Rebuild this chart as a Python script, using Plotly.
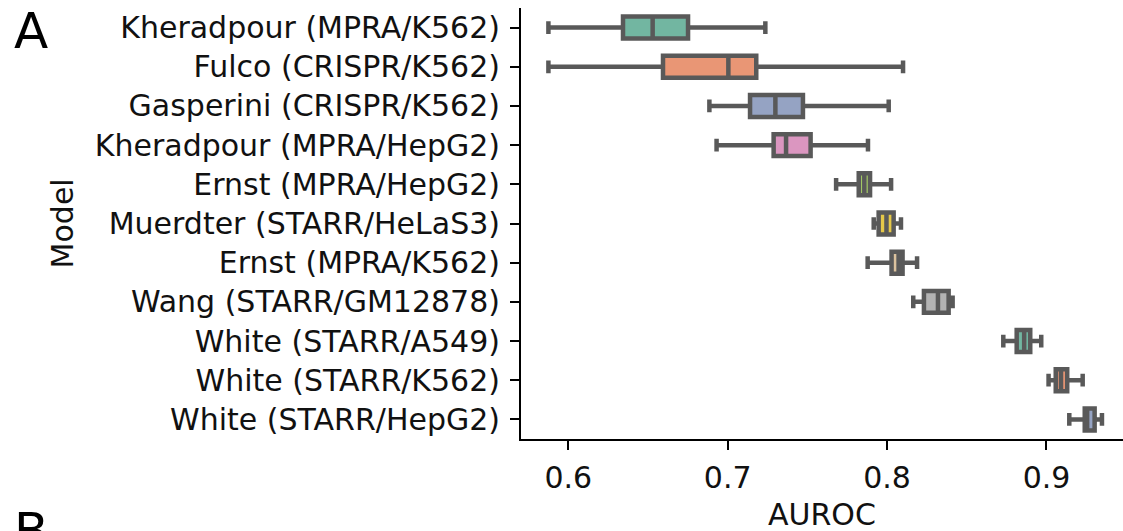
import colorsys
import plotly.graph_objects as go

models = [
    "Kheradpour (MPRA/K562)",
    "Fulco (CRISPR/K562)",
    "Gasperini (CRISPR/K562)",
    "Kheradpour (MPRA/HepG2)",
    "Ernst (MPRA/HepG2)",
    "Muerdter (STARR/HeLaS3)",
    "Ernst (MPRA/K562)",
    "Wang (STARR/GM12878)",
    "White (STARR/A549)",
    "White (STARR/K562)",
    "White (STARR/HepG2)",
]
lower_whisker = [0.5875, 0.5875, 0.6885, 0.693, 0.768, 0.7916, 0.7878, 0.8164, 0.8729, 0.9013, 0.9143]
q1_values     = [0.6343, 0.6594, 0.714, 0.7288, 0.7822, 0.7947, 0.8028, 0.8231, 0.8813, 0.9058, 0.9240]
median_values = [0.6529, 0.7004, 0.7299, 0.7366, 0.7857, 0.7996, 0.8072, 0.8319, 0.886, 0.9091, 0.9255]
q3_values     = [0.6751, 0.7179, 0.7472, 0.752, 0.7893, 0.8041, 0.8097, 0.8386, 0.8898, 0.913, 0.9302]
upper_whisker = [0.7236, 0.810, 0.801, 0.788, 0.8025, 0.8087, 0.8188, 0.8411, 0.8967, 0.9227, 0.9348]
x_ticks = [0.6, 0.7, 0.8, 0.9]

set2 = ["#66c2a5", "#fc8d62", "#8da0cb", "#e78ac3", "#a6d854", "#ffd92f",
        "#e5c494", "#b3b3b3"]


def desat(hexc, prop=0.75):
    r, g, b = (int(hexc[i:i + 2], 16) / 255 for i in (1, 3, 5))
    h, l, s = colorsys.rgb_to_hls(r, g, b)
    r, g, b = colorsys.hls_to_rgb(h, l, s * prop)
    return "rgb(%d,%d,%d)" % (round(r * 255), round(g * 255), round(b * 255))


colors = [desat(set2[i % len(set2)]) for i in range(len(models))]
gray = "#595959"
FONT = "DejaVu Sans"
TXT = "#111111"

fig = go.Figure()
for i, m in enumerate(models):
    fig.add_trace(go.Box(
        y=[m], orientation="h",
        q1=[q1_values[i]], median=[median_values[i]], q3=[q3_values[i]],
        lowerfence=[lower_whisker[i]], upperfence=[upper_whisker[i]],
        fillcolor=colors[i], line=dict(color=gray, width=4.5),
        whiskerwidth=0.58, boxpoints=False, showlegend=False,
    ))

fig.update_layout(
    width=1123, height=531,
    margin=dict(l=521, r=0, t=8, b=92),
    plot_bgcolor="white", paper_bgcolor="white",
    boxgap=0.2, boxmode="overlay",
    font=dict(family=FONT, size=30, color=TXT),
)
fig.update_xaxes(
    range=[0.5703, 0.948], tickvals=x_ticks, ticktext=[str(t) for t in x_ticks],
    showgrid=False, zeroline=False, showline=True, linecolor="black", linewidth=2,
    ticks="outside", ticklen=9, tickwidth=2, tickcolor="black",
    tickfont=dict(size=30, family=FONT, color=TXT), ticklabelstandoff=2,
)
fig.update_yaxes(
    type="category", categoryorder="array", categoryarray=models,
    range=[10.5, -0.5],
    showgrid=False, zeroline=False, showline=True, linecolor="black", linewidth=2,
    ticks="outside", ticklen=9, tickwidth=2, tickcolor="black",
    tickfont=dict(size=30, family=FONT, color=TXT), ticklabelstandoff=4,
)
fig.add_annotation(text="AUROC", xref="paper", yref="paper", x=0.5, y=-0.13,
                   xanchor="center", yanchor="top", showarrow=False,
                   font=dict(size=30, family=FONT, color=TXT))
fig.add_annotation(text="Model", xref="paper", yref="paper", x=-0.761, y=0.5,
                   xanchor="center", yanchor="middle", textangle=-90, showarrow=False,
                   font=dict(size=30, family=FONT, color=TXT))
fig.add_annotation(text="A", xref="paper", yref="paper", x=-0.846, y=1.018,
                   xanchor="left", yanchor="top", showarrow=False,
                   font=dict(size=50, family=FONT, color="black"))
fig.add_annotation(text="B", xref="paper", yref="paper", x=-0.846, y=-0.142,
                   xanchor="left", yanchor="top", showarrow=False,
                   font=dict(size=50, family=FONT, color="black"))

fig.write_html("out.html")
